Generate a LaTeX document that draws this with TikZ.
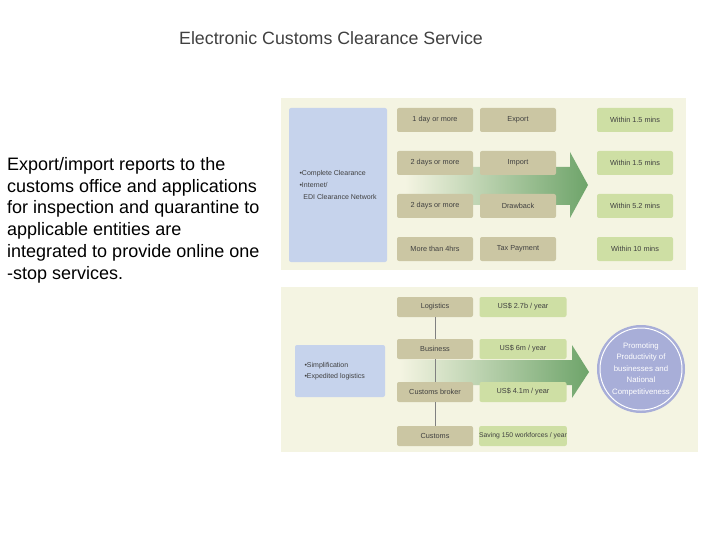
\documentclass[tikz,border=0pt]{standalone}
\usepackage{fontspec}
\setmainfont{Liberation Sans}
\usepackage{xcolor}
\usetikzlibrary{arrows.meta}

\definecolor{panel}{HTML}{F4F4E2}
\definecolor{bluebox}{HTML}{C6D3EC}
\definecolor{tanbox}{HTML}{CBC6A3}
\definecolor{greenbox}{HTML}{CEDFA4}
\definecolor{arrowgreen}{HTML}{6EA46A}
\definecolor{circlefill}{HTML}{A8AED8}
\definecolor{titlegray}{HTML}{404040}

\begin{document}
\begin{tikzpicture}[x=1pt,y=-1pt,
        tbox/.style={fill=tanbox, rounded corners=2pt, minimum width=76pt, minimum height=24pt, inner sep=0pt, font=\fontsize{7.3}{9}\selectfont, text=black!75},
        gbox/.style={tbox, fill=greenbox},
        smallbox/.style={minimum height=20pt}]
        \useasboundingbox (0,0) rectangle (720,540);

        % Title and description
        \node[text=titlegray, font=\fontsize{17.8}{20}\selectfont] (title) at (331,38) {Electronic Customs Clearance Service};
        \node[anchor=north west, align=left, inner sep=0pt, font=\fontsize{18}{21.8}\selectfont] (desc) at (7,157)
            {Export/import reports to the\\customs office and applications\\for inspection and quarantine to\\applicable entities are\\integrated to provide online one\\-stop services.};

        % Upper panel
        \fill[panel] (281,98) rectangle (686,270);
        \shade[left color=panel, right color=arrowgreen]
            (405,167) -- (570,167) -- (570,152) -- (588,185) -- (570,218) -- (570,205) -- (405,205) -- cycle;
        \node[fill=bluebox, rounded corners=2pt, minimum width=98pt, minimum height=154pt, inner sep=0pt] (net) at (338,185) {};
        \node[anchor=west, align=left, font=\fontsize{7}{12}\selectfont, text=black!75] (netlabel) at (296,185)
            {\textbullet Complete Clearance\\\textbullet Internet/\\\ \ EDI Clearance Network};

        \node[tbox] (d1) at (435,120) {1 day or more};
        \node[tbox] (d2) at (435,163) {2 days or more};
        \node[tbox] (d3) at (435,206) {2 days or more};
        \node[tbox] (d4) at (435,249) {More than 4hrs};

        \node[tbox] (export) at (518,120) {Export};
        \node[tbox] (import) at (518,163) {Import};
        \node[tbox] (drawback) at (518,206) {Drawback};
        \node[tbox] (tax) at (518,249) {Tax Payment};

        \node[gbox] (w1) at (635,120) {Within 1.5 mins};
        \node[gbox] (w2) at (635,163) {Within 1.5 mins};
        \node[gbox] (w3) at (635,206) {Within 5.2 mins};
        \node[gbox] (w4) at (635,249) {Within 10 mins};

        % Lower panel
        \fill[panel] (281,287) rectangle (698,452);
        \shade[left color=panel, right color=arrowgreen]
            (400,360) -- (572,360) -- (572,345) -- (589,372) -- (572,398) -- (572,385) -- (400,385) -- cycle;
        \node[fill=bluebox, rounded corners=2pt, minimum width=90pt, minimum height=52pt, inner sep=0pt] (simp) at (340,371) {};
        \node[anchor=west, align=left, font=\fontsize{7}{11}\selectfont, text=black!75] (simplabel) at (301,371)
            {\textbullet Simplification\\\textbullet Expedited logistics};

        \node[tbox, smallbox] (logi) at (435,307) {Logistics};
        \node[tbox, smallbox] (busi) at (435,349) {Business};
        \node[tbox, smallbox] (broker) at (435,392) {Customs broker};
        \node[tbox, smallbox] (cust) at (435,436) {Customs};

        \draw[gray] (logi) -- (busi);
        \draw[gray] (busi) -- (broker);
        \draw[gray] (broker) -- (cust);

        \node[gbox, smallbox, minimum width=87pt] (s1) at (523,307) {US\$ 2.7b / year};
        \node[gbox, smallbox, minimum width=87pt] (s2) at (523,349) {US\$ 6m / year};
        \node[gbox, smallbox, minimum width=87pt] (s3) at (523,392) {US\$ 4.1m / year};
        \node[gbox, smallbox, minimum width=87pt, font=\fontsize{6.8}{9}\selectfont] (s4) at (523,436) {Saving 150 workforces / year};

        \node[circle, fill=circlefill, minimum size=88pt, inner sep=0pt] (goal) at (641,369) {};
        \draw[white, line width=1pt] (goal.center) circle (41pt);
        \node[align=center, text=white, font=\fontsize{7.8}{11.5}\selectfont] (goaltext) at (goal.center)
            {Promoting\\Productivity of\\businesses and\\National\\Competitiveness};
    \end{tikzpicture}
\end{document}
